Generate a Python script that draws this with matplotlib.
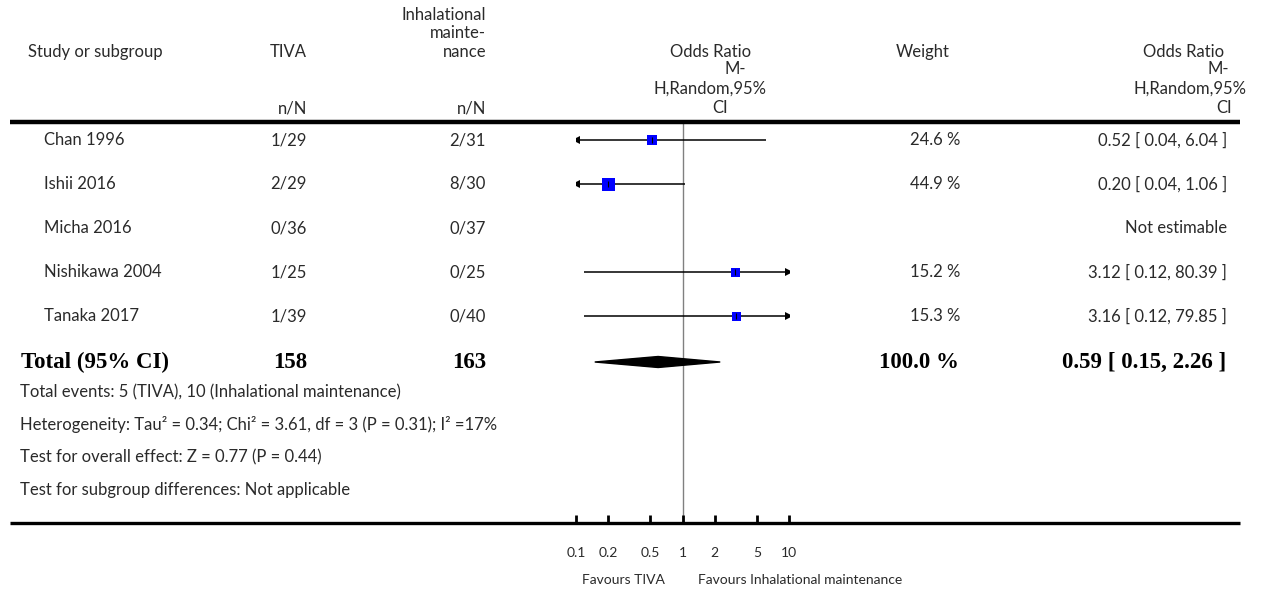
import matplotlib
matplotlib.use("Agg")
import matplotlib.pyplot as plt
from matplotlib.lines import Line2D
from matplotlib.patches import Polygon
import numpy as np

# ---------------- data ----------------
studies = ["Chan 1996", "Ishii 2016", "Micha 2016", "Nishikawa 2004", "Tanaka 2017"]
tiva_events = [1, 2, 0, 1, 1]
tiva_total = [29, 29, 36, 25, 39]
inh_events = [2, 8, 0, 0, 0]
inh_total = [31, 30, 37, 25, 40]
weights = [24.6, 44.9, None, 15.2, 15.3]
or_est = [0.52, 0.20, None, 3.12, 3.16]
or_lo = [0.04, 0.04, None, 0.12, 0.12]
or_hi = [6.04, 1.06, None, 80.39, 79.85]

total_tiva = 158
total_inh = 163
total_weight = 100.0
total_or = 0.59
total_lo = 0.15
total_hi = 2.26

tick_values = [0.1, 0.2, 0.5, 1, 2, 5, 10]
tick_labels = ["0.1", "0.2", "0.5", "1", "2", "5", "10"]

footer_lines = [
    "Total events: 5 (TIVA), 10 (Inhalational maintenance)",
    "Heterogeneity: Tau² = 0.34; Chi² = 3.61, df = 3 (P = 0.31); I² =17%",
    "Test for overall effect: Z = 0.77 (P = 0.44)",
    "Test for subgroup differences: Not applicable",
]

# ---------------- layout ----------------
W, H = 1268, 592
fig = plt.figure(figsize=(W / 100, H / 100), dpi=100)
FONT = "Lato"
SERIF = "Liberation Serif"
TXT = "#2a2a2a"
FS = 12.0
FW = "normal"
BS = 16.5


def T(x, y, s, ha="left", size=FS, family=FONT, weight=FW, color=TXT):
    fig.text(x / W, 1 - y / H, s, ha=ha, va="center", fontsize=size,
             family=family, weight=weight, color=color)


def hline(x0, x1, y, lw):
    fig.add_artist(Line2D([x0 / W, x1 / W], [1 - y / H, 1 - y / H],
                          color="black", lw=lw, solid_capstyle="butt"))


# header
T(486, 15, "Inhalational", ha="right")
T(486, 33, "mainte-", ha="right")
T(486, 52, "nance", ha="right")
T(28, 52, "Study or subgroup")
T(307, 52, "TIVA", ha="right")
T(307, 108, "n/N", ha="right")
T(486, 108, "n/N", ha="right")
T(711, 52, "Odds Ratio", ha="center")
T(735, 69, "M-", ha="center")
T(710, 89, "H,Random,95%", ha="center")
T(720, 108, "CI", ha="center")
T(923, 52, "Weight", ha="center")
T(1184, 52, "Odds Ratio", ha="center")
T(1218, 69, "M-", ha="center")
T(1190, 89, "H,Random,95%", ha="center")
T(1224, 108, "CI", ha="center")

hline(10, 1240, 122, 3.2)
hline(10, 1240, 523, 2.4)

# rows
row_y0, row_dy = 140, 44
for i, name in enumerate(studies):
    y = row_y0 + row_dy * i
    T(44, y, name)
    T(307, y, f"{tiva_events[i]}/{tiva_total[i]}", ha="right")
    T(486, y, f"{inh_events[i]}/{inh_total[i]}", ha="right")
    if weights[i] is not None:
        T(960, y, f"{weights[i]:.1f} %", ha="right")
        T(1227, y, f"{or_est[i]:.2f} [ {or_lo[i]:.2f}, {or_hi[i]:.2f} ]", ha="right")
    else:
        T(1227, y, "Not estimable", ha="right")

ty = 362
T(21, ty, "Total (95% CI)", size=BS, family=SERIF, weight="bold", color="black")
T(307, ty, f"{total_tiva}", ha="right", size=BS, family=SERIF, weight="bold", color="black")
T(486, ty, f"{total_inh}", ha="right", size=BS, family=SERIF, weight="bold", color="black")
T(959, ty, f"{total_weight:.1f} %", ha="right", size=BS, family=SERIF, weight="bold",
  color="black")
T(1226, ty, f"{total_or:.2f} [ {total_lo:.2f}, {total_hi:.2f} ]", ha="right",
  size=BS, family=SERIF, weight="bold", color="black")

for k, line in enumerate(footer_lines):
    T(20, 392 + 32.5 * k, line)

# ---------------- forest axes ----------------
x_left_px, x_right_px = 576, 789
top_px, bot_px = 122, 523
ax = fig.add_axes([x_left_px / W, 1 - bot_px / H,
                   (x_right_px - x_left_px) / W, (bot_px - top_px) / H])
ax.set_xscale("log")
ax.set_xlim(0.1, 10)
ax.set_ylim((bot_px - row_y0) / row_dy, (top_px - row_y0) / row_dy)
ax.patch.set_alpha(0)
for s in ax.spines.values():
    s.set_visible(False)
ax.set_yticks([])

ax.axvline(1, color="#808080", lw=1.0, zorder=1)

xmin, xmax = ax.get_xlim()
wmax = max(w for w in weights if w)
for i in range(len(studies)):
    if or_est[i] is None:
        continue
    lo = max(or_lo[i], xmin)
    hi = min(or_hi[i], xmax)
    ax.plot([lo, hi], [i, i], color="black", lw=1.1, zorder=2, solid_capstyle="butt")
    if or_lo[i] < xmin:
        ax.plot([xmin], [i], marker="<", color="black", ms=5.5, mew=0, zorder=3)
    if or_hi[i] > xmax:
        ax.plot([xmax], [i], marker=">", color="black", ms=5.5, mew=0, zorder=3)
    size_px = max(9.0, 13.0 * np.sqrt(weights[i] / wmax))
    ax.plot([or_est[i]], [i], marker="s", color="#0000ff", ms=size_px * 0.72,
            mew=0, zorder=4)
    ax.plot([or_est[i]], [i], marker="|", color="black", ms=4, mew=0.8, zorder=5)

# diamond for total
ti = (ty - row_y0) / row_dy
hh = 5.5 / row_dy
diamond = Polygon([[total_lo, ti], [total_or, ti - hh], [total_hi, ti], [total_or, ti + hh]],
                  closed=True, color="black", zorder=4)
ax.add_patch(diamond)

ax.set_xticks(tick_values)
ax.set_xticklabels(tick_labels)
ax.minorticks_off()
ax.tick_params(axis="x", direction="in", length=6, width=2, pad=17,
               labelsize=10, colors="black", labelcolor=TXT)
for lab in ax.get_xticklabels():
    lab.set_family(FONT)

T(665, 580, "Favours TIVA", ha="right", size=10)
T(698, 580, "Favours Inhalational maintenance", size=10)

fig.savefig("out.png", dpi=100)
